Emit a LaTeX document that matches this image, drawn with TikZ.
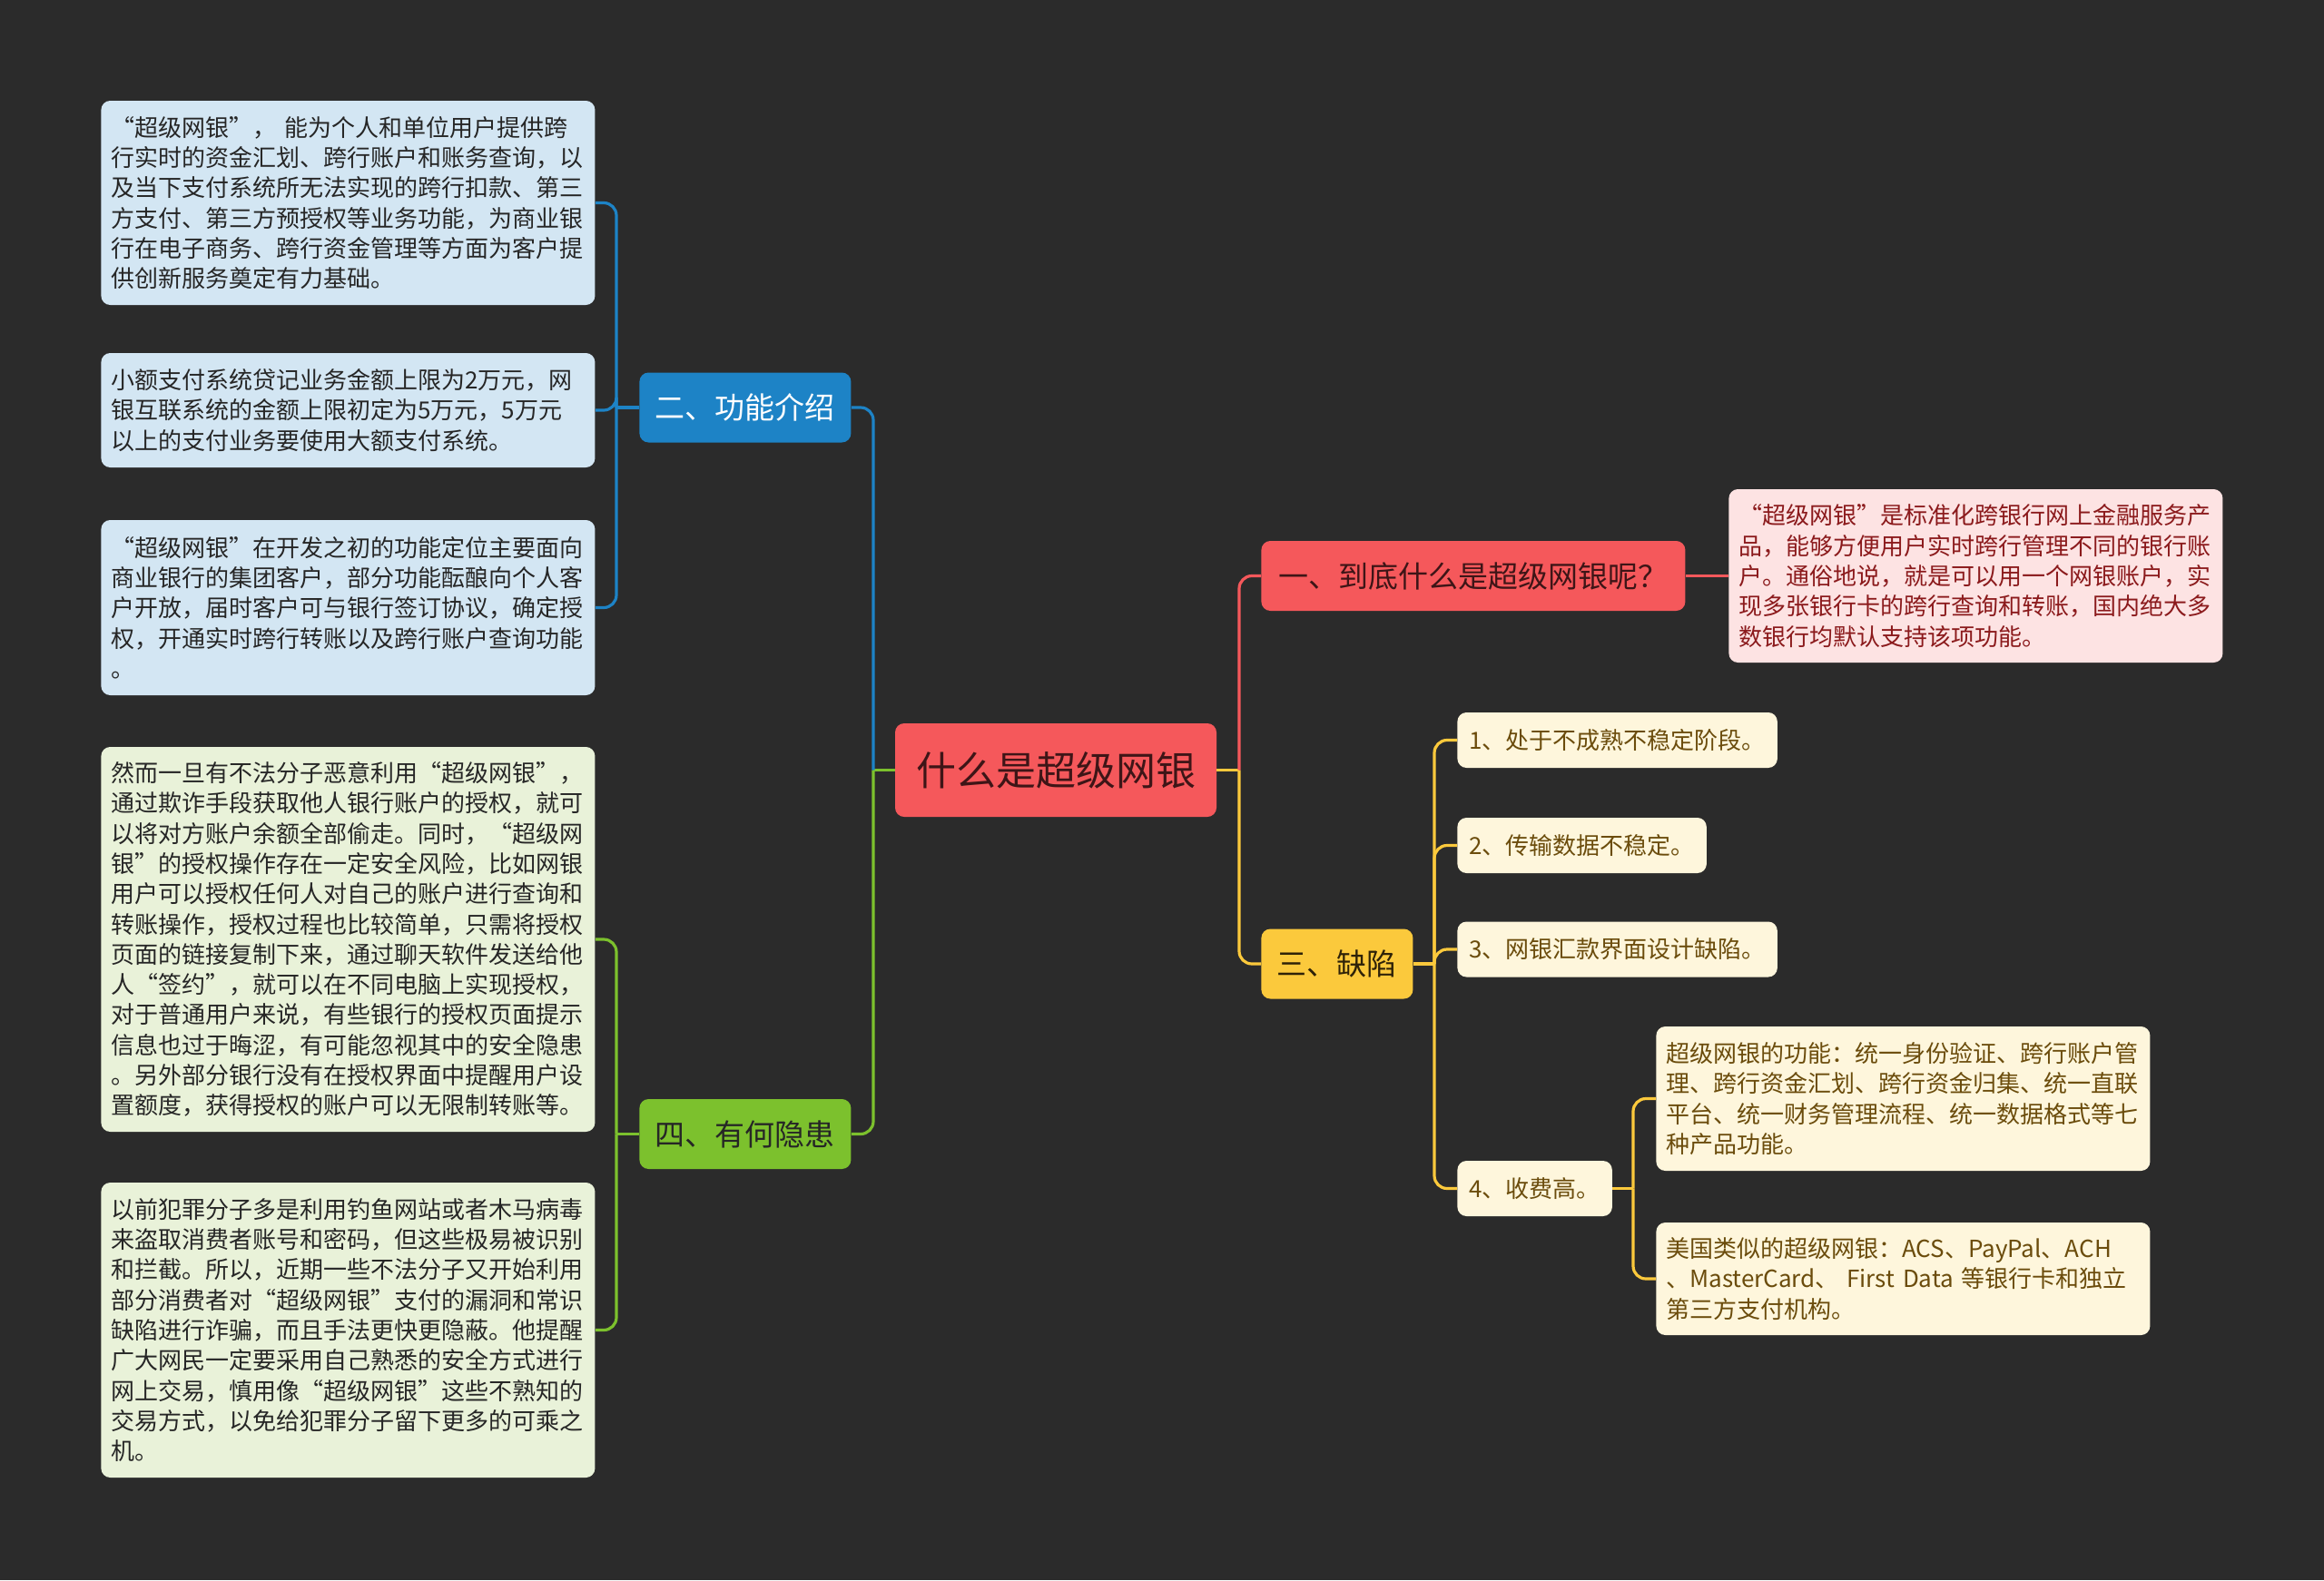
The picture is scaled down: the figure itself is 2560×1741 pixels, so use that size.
\documentclass[tikz,border=0pt]{standalone}
\usepackage{fontspec}
\setmainfont{Noto Sans CJK SC}
\definecolor{bg}{HTML}{2B2B2B}
\definecolor{cblue}{HTML}{1D83C6}
\definecolor{cgreen}{HTML}{7CC12D}
\definecolor{cred}{HTML}{F5585B}
\definecolor{cyellow}{HTML}{FBC93C}
\definecolor{fblue}{HTML}{D3E6F3}
\definecolor{fgreen}{HTML}{E9F2D9}
\definecolor{fpink}{HTML}{FDE3E3}
\definecolor{fyellow}{HTML}{FEF6DC}
\definecolor{tdark}{HTML}{262626}
\definecolor{tmaroon}{HTML}{3E1517}
\definecolor{tpink}{HTML}{8B1A1C}
\definecolor{tbrown}{HTML}{6B4C0C}
\definecolor{tyel}{HTML}{2E2208}
\begin{document}
\begin{tikzpicture}[x=0.5pt,y=-0.5pt,
  box/.style={rounded corners=5pt, inner ysep=0pt},
  leaf/.style={box, anchor=west, align=left, text width=261pt, inner xsep=5.5pt,
    font=\fontsize{13}{16.65}\selectfont},
  leafblue/.style={leaf, fill=fblue, text=tdark},
  leafgreen/.style={leaf, fill=fgreen, text=tdark},
  leafpink/.style={leaf, fill=fpink, text=tpink},
  leafyellow/.style={leaf, fill=fyellow, text=tbrown},
  small/.style={box, anchor=west, fill=fyellow, text=tbrown, inner xsep=6.5pt,
    minimum height=30.5pt, font=\fontsize{13}{16}\selectfont},
  topic/.style={box, anchor=west, minimum height=38.5pt, font=\fontsize{16.5}{20}\selectfont},
  link/.style={line width=1.6pt},
  rc/.style={rounded corners=7pt}
]
\fill[bg] (0,0) rectangle (2560,1741);
\useasboundingbox (0,0) rectangle (2560,1741);

% root
\node[box, fill=cred, text=tmaroon, minimum width=177pt, minimum height=51.5pt,
  font=\fontsize{22}{26}\selectfont] (root) at (1163,848.5) {什么是超级网银};

% level 1
\node[topic, fill=cblue, text=white, minimum width=116.5pt] (n2) at (704,449) {二、功能介绍};
\node[topic, fill=cgreen, text=tdark, minimum width=116.5pt] (n4) at (704,1249.5) {四、有何隐患};
\node[topic, fill=cred, text=tmaroon, minimum width=233.5pt] (n1) at (1389,634.5) {一、到底什么是超级网银呢？};
\node[topic, fill=cyellow, text=tyel, minimum width=83.5pt] (n3) at (1389,1062) {三、缺陷};

% blue leaves
\node[leafblue, minimum height=112.5pt] (a) at (111,223.5) {“超级网银”，~能为个人和单位用户提供跨\\行实时的资金汇划、跨行账户和账务查询，以\\及当下支付系统所无法实现的跨行扣款、第三\\方支付、第三方预授权等业务功能，为商业银\\行在电子商务、跨行资金管理等方面为客户提\\供创新服务奠定有力基础。};
\node[leafblue, minimum height=63pt] (b) at (111,452) {小额支付系统贷记业务金额上限为2万元，网\\银互联系统的金额上限初定为5万元，5万元\\以上的支付业务要使用大额支付系统。};
\node[leafblue, minimum height=96.5pt] (c) at (111,669.5) {“超级网银”在开发之初的功能定位主要面向\\商业银行的集团客户，部分功能酝酿向个人客\\户开放，届时客户可与银行签订协议，确定授\\权，开通实时跨行转账以及跨行账户查询功能\\。};

% green leaves
\node[leafgreen, minimum height=212pt] (d) at (111,1035) {然而一旦有不法分子恶意利用“超级网银”，\\通过欺诈手段获取他人银行账户的授权，就可\\以将对方账户余额全部偷走。同时，“超级网\\银”的授权操作存在一定安全风险，比如网银\\用户可以授权任何人对自己的账户进行查询和\\转账操作，授权过程也比较简单，只需将授权\\页面的链接复制下来，通过聊天软件发送给他\\人“签约”，就可以在不同电脑上实现授权，\\对于普通用户来说，有些银行的授权页面提示\\信息也过于晦涩，有可能忽视其中的安全隐患\\。另外部分银行没有在授权界面中提醒用户设\\置额度，获得授权的账户可以无限制转账等。};
\node[leafgreen, minimum height=162.5pt] (e) at (111,1465.5) {以前犯罪分子多是利用钓鱼网站或者木马病毒\\来盗取消费者账号和密码，但这些极易被识别\\和拦截。所以，近期一些不法分子又开始利用\\部分消费者对“超级网银”支付的漏洞和常识\\缺陷进行诈骗，而且手法更快更隐蔽。他提醒\\广大网民一定要采用自己熟悉的安全方式进行\\网上交易，慎用像“超级网银”这些不熟知的\\交易方式，以免给犯罪分子留下更多的可乘之\\机。};

% pink leaf
\node[leafpink, minimum height=95.5pt] (p) at (1904,634.5) {“超级网银”是标准化跨银行网上金融服务产\\品，能够方便用户实时跨行管理不同的银行账\\户。通俗地说，就是可以用一个网银账户，实\\现多张银行卡的跨行查询和转账，国内绝大多\\数银行均默认支持该项功能。};

% yellow items
\node[small] (s1) at (1605,815.5) {1、处于不成熟不稳定阶段。};
\node[small] (s2) at (1605,931.5) {2、传输数据不稳定。};
\node[small] (s3) at (1605,1046) {3、网银汇款界面设计缺陷。};
\node[small] (s4) at (1605,1309.5) {4、收费高。};
\node[leafyellow, minimum height=79.5pt] (y1) at (1824,1210.5) {超级网银的功能：统一身份验证、跨行账户管\\理、跨行资金汇划、跨行资金归集、统一直联\\平台、统一财务管理流程、统一数据格式等七\\种产品功能。};
\node[leafyellow, minimum height=62pt] (y2) at (1824,1409) {美国类似的超级网银：ACS、PayPal、ACH\\、MasterCard、~First~Data~等银行卡和独立\\第三方支付机构。};

% junctions
\coordinate (jl) at (962,848.5);
\coordinate (jr) at (1365,848.5);
\coordinate (jb) at (679,449);
\coordinate (jg) at (679,1249.5);
\coordinate (jy) at (1580,1062);
\coordinate (j4) at (1799,1309.5);

% connectors
\draw[link, cgreen] (root.west) -- (jl);
\draw[link, cblue, rc] (jl) |- (n2.east);
\draw[link, cgreen, rc] (jl) |- (n4.east);
\draw[link, cyellow] (root.east) -- (jr);
\draw[link, cred, rc] (jr) |- (n1.west);
\draw[link, cyellow, rc] (jr) |- (n3.west);
\draw[link, cred] (n1.east) -- (p.west);

\draw[link, cblue] (n2.west) -- (jb);
\draw[link, cblue, rc] (jb) |- (a.east);
\draw[link, cblue, rc] (jb) |- (b.east);
\draw[link, cblue, rc] (jb) |- (c.east);

\draw[link, cgreen] (n4.west) -- (jg);
\draw[link, cgreen, rc] (jg) |- (d.east);
\draw[link, cgreen, rc] (jg) |- (e.east);

\draw[link, cyellow] (n3.east) -- (jy);
\draw[link, cyellow, rc] (jy) |- (s1.west);
\draw[link, cyellow, rc] (jy) |- (s2.west);
\draw[link, cyellow, rc] (jy) |- (s3.west);
\draw[link, cyellow, rc] (jy) |- (s4.west);

\draw[link, cyellow] (s4.east) -- (j4);
\draw[link, cyellow, rc] (j4) |- (y1.west);
\draw[link, cyellow, rc] (j4) |- (y2.west);
\end{tikzpicture}
\end{document}
